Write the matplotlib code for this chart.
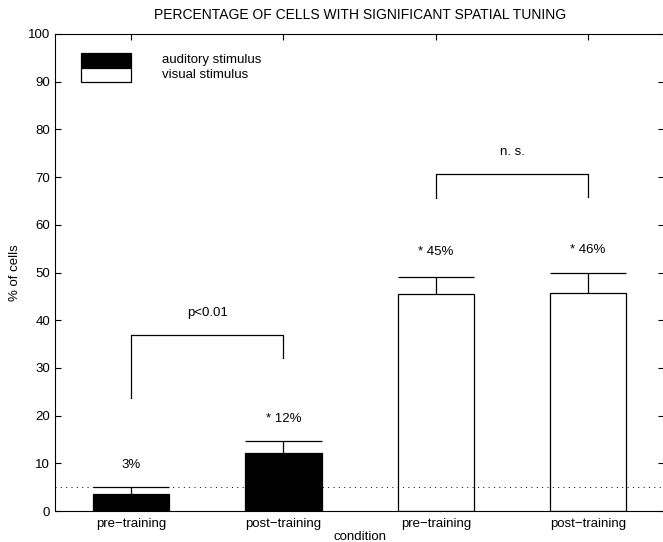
import matplotlib
matplotlib.use("Agg")
import matplotlib.pyplot as plt
import numpy as np

plt.rcParams['font.family'] = ['Liberation Sans', 'DejaVu Sans']

# percentage of cells with significant spatial tuning
conditions = ['pre\u2212training', 'post\u2212training', 'pre\u2212training', 'post\u2212training']
pos = [1, 2, 3, 4]
percent = [3.6, 12.1, 45.5, 45.8]
err_top = [5.1, 14.6, 49.1, 49.8]
labels = ['3%', '* 12%', '* 45%', '* 46%']
label_y = [9.6, 19.3, 54.3, 54.7]
stimulus = ['auditory', 'auditory', 'visual', 'visual']
chance = 5.0

# significance brackets: x left, x right, top, left foot, right foot, text, text y
br_x = [(1, 2), (3, 4)]
br_top = [37.0, 70.6]
br_feet = [(23.7, 32.1), (65.6, 65.8)]
br_text = ['p<0.01', 'n. s.']
br_text_y = [41.5, 75.3]

fs = 9.5
bw = 0.5

fig = plt.figure(figsize=(6.63, 5.42), dpi=100)
ax = fig.add_axes([55/663, 31/542, 1.002 - 55/663, 477/542])

for x, v, s in zip(pos, percent, stimulus):
    fc = 'black' if s == 'auditory' else 'white'
    ax.bar(x, v, width=bw, color=fc, edgecolor='black', linewidth=0.9, zorder=2)

# upper error bars only
ax.vlines(pos, percent, err_top, color='black', linewidth=0.9, zorder=3)
ax.hlines(err_top, np.array(pos) - bw/2, np.array(pos) + bw/2, color='black', linewidth=0.9, zorder=3)

for x, t, y in zip(pos, labels, label_y):
    ax.text(x, y, t, ha='center', va='center', fontsize=fs)

ax.axhline(chance, color='black', linestyle=(0, (1, 4.5)), linewidth=0.7, zorder=4)

for (xl, xr), top, (fl, fr), t, ty in zip(br_x, br_top, br_feet, br_text, br_text_y):
    ax.plot([xl, xl, xr, xr], [fl, top, top, fr], color='black', linewidth=0.9)
    ax.text((xl + xr)/2, ty, t, ha='center', va='center', fontsize=fs)

# legend patches
ax.bar(0.836, 3.1, width=0.328, bottom=92.9, color='black', edgecolor='black', linewidth=0.9)
ax.bar(0.836, 3.0, width=0.328, bottom=89.9, color='white', edgecolor='black', linewidth=0.9)
ax.text(1.2, 94.6, 'auditory stimulus', va='center', fontsize=fs)
ax.text(1.2, 91.3, 'visual stimulus', va='center', fontsize=fs)

ax.set_xlim(0.5, 4.5)
ax.set_ylim(0, 100)
ax.set_xticks(pos)
ax.set_xticklabels(conditions, fontsize=fs)
ax.set_yticks(np.arange(0, 101, 10))
ax.tick_params(axis='y', labelsize=fs, direction='in', length=4, right=True, width=0.8)
ax.tick_params(axis='x', direction='in', length=4, top=True, width=0.8, pad=5)
ax.spines['right'].set_visible(False)
ax.set_xlabel('condition', fontsize=fs, labelpad=0.5)
ax.set_ylabel('% of cells', fontsize=fs, labelpad=5)
ax.set_title('PERCENTAGE OF CELLS WITH SIGNIFICANT SPATIAL TUNING', fontsize=10, pad=11)

fig.savefig('out.png', dpi=100)
